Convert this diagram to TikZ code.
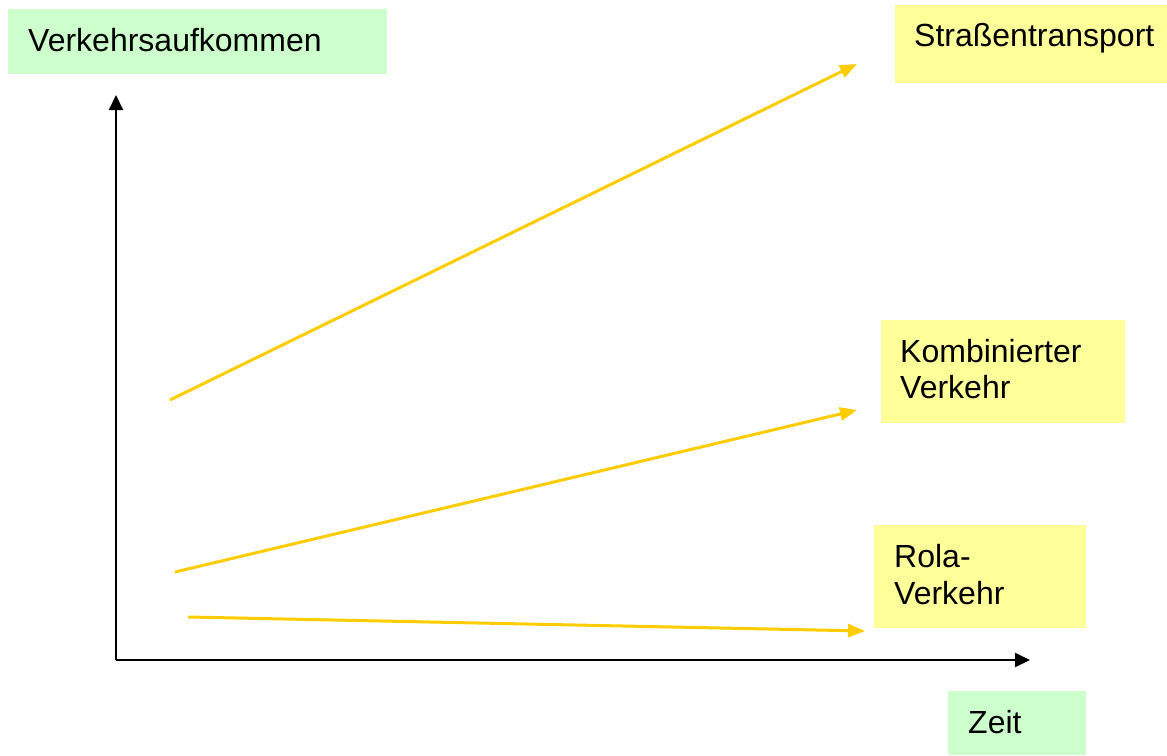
\documentclass[tikz,border=0pt]{standalone}
\usepackage{fontspec}
\setmainfont{Liberation Sans}
\usetikzlibrary{arrows.meta}
\definecolor{boxgreen}{HTML}{CCFFCC}
\definecolor{boxyellow}{HTML}{FFFF99}
\definecolor{linegold}{HTML}{FFCC00}
\tikzset{
  panel/.style={draw=none, inner sep=0pt, anchor=north west},
  lbl/.style={anchor=base west, inner sep=0pt, align=left,
     font=\fontsize{32}{36}\selectfont},
  axis/.style={line width=2pt, -{Triangle[length=15pt,width=14pt]}},
  trend/.style={line width=3pt, linegold, -{Triangle[length=17pt,width=13pt]}},
}
\begin{document}
\begin{tikzpicture}[x=1pt,y=-1pt]
\useasboundingbox (0,0) rectangle (1167,755);
% boxes
\node[panel, fill=boxgreen, minimum width=379pt, minimum height=65pt] (bva) at (8,9) {};
\node[panel, fill=boxyellow, minimum width=272pt, minimum height=78pt] (bst) at (895,5) {};
\node[panel, fill=boxyellow, minimum width=244pt, minimum height=103pt] (bkv) at (881,320) {};
\node[panel, fill=boxyellow, minimum width=212pt, minimum height=103pt] (brv) at (874,525) {};
\node[panel, fill=boxgreen, minimum width=138pt, minimum height=64pt] (bze) at (948,691) {};
% labels
\node[lbl] (tva) at (28,51) {Verkehrsaufkommen};
\node[lbl] (tst) at (914,46) {Straßentransport};
\node[lbl] (tkv1) at (900,362) {Kombinierter};
\node[lbl] (tkv2) at (900,398) {Verkehr};
\node[lbl] (trv1) at (894,567) {Rola-};
\node[lbl] (trv2) at (894,604) {Verkehr};
\node[lbl] (tze) at (968,733) {Zeit};
% axes
\coordinate (origin) at (116,660);
\coordinate (ytip) at (116,95);
\coordinate (xtip) at (1030,660);
\draw[axis] (origin) -- (ytip);
\draw[axis] (origin) -- (xtip);
% trend lines
\coordinate (s1) at (170,400);
\coordinate (e1) at (857,64);
\coordinate (s2) at (175,572);
\coordinate (e2) at (857,410);
\coordinate (s3) at (188,617);
\coordinate (e3) at (865,631);
\draw[trend] (s1) -- (e1);
\draw[trend] (s2) -- (e2);
\draw[trend] (s3) -- (e3);
\end{tikzpicture}
\end{document}
